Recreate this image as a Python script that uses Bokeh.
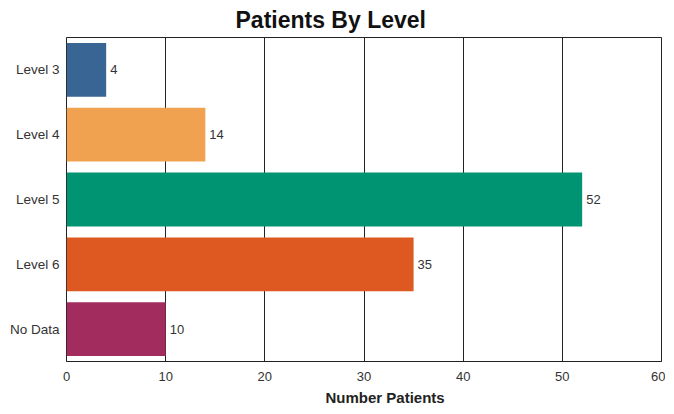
from bokeh.plotting import figure
from bokeh.models import ColumnDataSource, LabelSet, Title, FixedTicker, Range1d, FactorRange
from bokeh.core.properties import value
from bokeh.embed import file_html
from bokeh.resources import INLINE

categories = ["Level 3", "Level 4", "Level 5", "Level 6", "No Data"]
values = [4, 14, 52, 35, 10]
colors = ["#386594", "#F0A251", "#009473", "#DD5921", "#A22C5E"]
x_ticks = [0, 10, 20, 30, 40, 50, 60]
title_text = "Patients By Level"
x_label = "Number Patients"

FONT = "Liberation Sans"

src = ColumnDataSource(dict(cat=categories, val=values, color=colors,
                            lbl=[str(v) for v in values]))

p = figure(frame_width=595, frame_height=324, output_backend="svg", toolbar_location=None,
           y_range=FactorRange(factors=list(reversed(categories)), range_padding=0),
           x_range=Range1d(0, 60),
           min_border_left=66, min_border_right=4, min_border_top=5, min_border_bottom=3)
p.title.visible = False
p.background_fill_color = "white"
p.border_fill_color = "white"
p.outline_line_color = "#222222"
p.outline_line_width = 1

p.hbar(y="cat", right="val", left=0, height=0.83, color="color", line_color=None, source=src)

labels = LabelSet(x="val", y="cat", text="lbl", source=src, x_offset=4,
                  text_baseline="middle", text_font_size="13px", text_color="#333333",
                  text_font=value(FONT))
p.add_layout(labels)

p.xaxis.ticker = FixedTicker(ticks=x_ticks)
p.xgrid.ticker = FixedTicker(ticks=x_ticks)
p.xgrid.grid_line_color = "#222222"
p.xgrid.grid_line_width = 1
p.ygrid.grid_line_color = None

p.xaxis.axis_line_color = "#222222"
p.xaxis.major_tick_line_color = None
p.xaxis.minor_tick_line_color = None
p.xaxis.major_tick_out = 0
p.xaxis.major_label_standoff = 10
p.xaxis.major_label_text_font_size = "13px"
p.xaxis.major_label_text_font = FONT
p.xaxis.major_label_text_color = "#333333"

p.yaxis.axis_line_color = None
p.yaxis.major_tick_line_color = None
p.yaxis.minor_tick_line_color = None
p.yaxis.major_tick_out = 0
p.yaxis.major_label_standoff = 7
p.yaxis.major_label_text_font_size = "13.5px"
p.yaxis.major_label_text_font = FONT
p.yaxis.major_label_text_color = "#333333"

p.add_layout(Title(text=title_text, align="left", offset=169, standoff=9,
                   text_font=FONT, text_font_size="23px", text_font_style="bold",
                   text_color="#111111"), "above")
p.add_layout(Title(text=x_label, align="left", offset=259, standoff=7,
                   text_font=FONT, text_font_size="15px", text_font_style="bold",
                   text_color="#222222"), "below")

open("out.html", "w").write(file_html(p, INLINE))
